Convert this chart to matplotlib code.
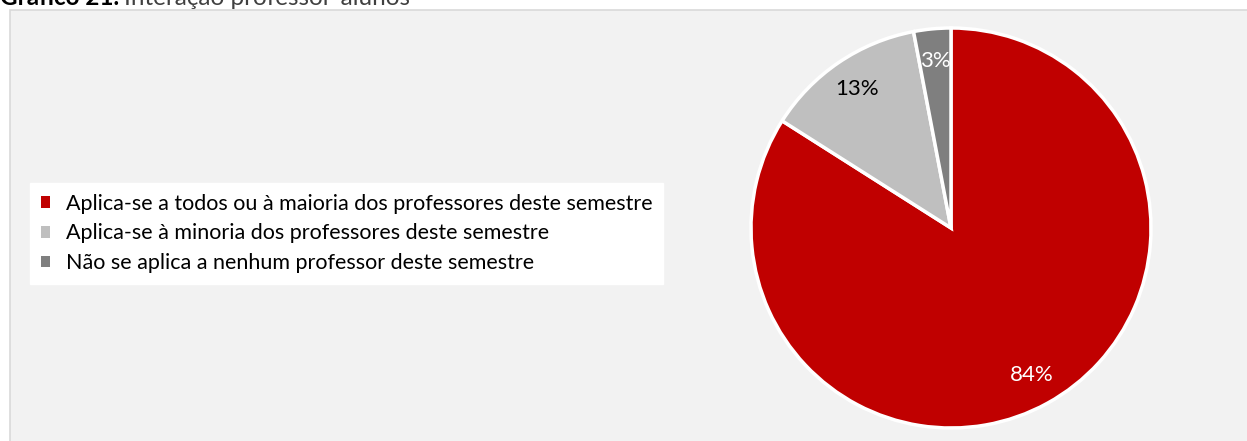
import matplotlib
matplotlib.use('Agg')
import matplotlib.pyplot as plt
from matplotlib.patches import Rectangle, Patch

# data
categories = ['Aplica-se a todos ou à maioria dos professores deste semestre',
              'Aplica-se à minoria dos professores deste semestre',
              'Não se aplica a nenhum professor deste semestre']
values = [84, 13, 3]
colors = ['#C00000', '#BFBFBF', '#7F7F7F']
label_colors = ['white', 'black', 'white']

W, H = 1247, 441
fig = plt.figure(figsize=(W / 100, H / 100), dpi=100)
fig.patch.set_facecolor('white')

# chart area background
bg = fig.add_axes([0, 0, 1, 1], zorder=-1)
bg.set_xlim(0, W)
bg.set_ylim(H, 0)
bg.axis('off')
bg.add_patch(Rectangle((10, 10), W, H, facecolor='#F2F2F2', edgecolor='#D9D9D9', lw=1.2))

# cut-off title at the top
t1 = fig.text(0.0, 1 - 5 / H, 'Gráfico 21.', fontsize=17.5, fontweight='bold', family='Lato',
              ha='left', va='baseline')
fig.canvas.draw()
x_end = t1.get_window_extent().x1
fig.text((x_end + 5) / W, 1 - 5 / H, 'Interação professor-alunos', fontsize=17.5, family='Lato',
         ha='left', va='baseline', color='#404040')

ax = fig.add_axes([749 / W, 11 / H, 404 / W, 404 / H])
wedges, texts, autotexts = ax.pie(values, colors=colors, startangle=90, counterclock=False,
                                  autopct='%1.0f%%', pctdistance=0.84,
                                  wedgeprops=dict(edgecolor='white', linewidth=2.5),
                                  textprops=dict(fontsize=16, family='Lato'))
for t, c in zip(autotexts, label_colors):
    t.set_color(c)
ax.set_xlim(-1.01, 1.01)
ax.set_ylim(-1.01, 1.01)
ax.set_aspect('equal')

handles = [Patch(facecolor=c, edgecolor='none') for c in colors]
leg = fig.legend(handles, categories, loc='upper left', bbox_to_anchor=(30 / W, 1 - 183 / H),
                 frameon=True, fancybox=False, framealpha=1, edgecolor='white',
                 prop=dict(family='Lato', size=15.5), handlelength=0.45, handleheight=0.45,
                 handletextpad=0.7, labelspacing=0.45, borderpad=0.5, borderaxespad=0)

fig.savefig('out.png', dpi=100, facecolor='white')
